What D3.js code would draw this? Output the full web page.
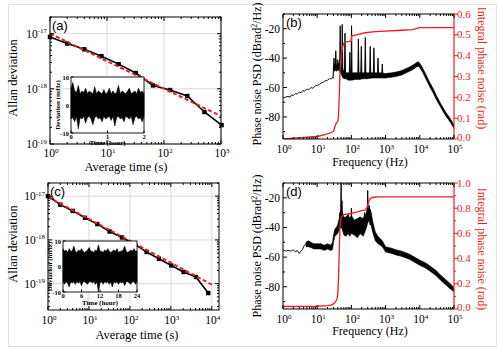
<!DOCTYPE html>
<html>
<head>
<meta charset="utf-8">
<script src="https://cdn.jsdelivr.net/npm/d3@7"></script>
<style>
body { margin: 0; background: #fff; }
svg { display: block; font-family: "Liberation Serif", "Times New Roman", serif; }
</style>
</head>
<body>
<svg id="chart" width="500" height="348"></svg>
<script>
// ---- panel (a): Allan deviation, 2 h run
const tauA = [1, 2, 4, 8, 16, 32, 64, 128, 256, 512, 1024];
const adevA = [8.7e-18, 6.6e-18, 5.2e-18, 3.9e-18, 2.8e-18, 1.93e-18, 1.15e-18, 9.5e-19, 7.4e-19, 3.8e-19, 2.2e-19];
const fitTauA = [1, 1000];
const fitA = [1.0e-17, 3.2e-19];
// inset (a): deviation envelope (mHz) over 0..2 hours
const insetAUpper = [6, 8, 5, 4.5, 7, 4, 5, 4.5, 6, 4, 5, 4.5, 4, 6.5, 4, 5, 4.5, 4, 5.5, 4, 4.5, 6, 4, 5, 4, 4.5, 7, 4, 5, 4.5, 4, 5, 6, 4, 4.5, 5, 4, 6, 4.5, 5, 4];
const insetALower = [-5, -4.5, -6, -4, -8.5, -4.5, -5, -4, -6.5, -4.5, -4, -5, -7, -4.5, -4, -5, -4.5, -6, -4, -5, -4.5, -4, -5.5, -4, -7.5, -4.5, -4, -5, -4.5, -6, -4, -4.5, -5, -4, -7, -4.5, -4, -5, -4.5, -6, -4];
const insetATicks = [0, 1, 2];

// ---- panel (c): Allan deviation, 24 h run
const tauC = [1, 2, 4, 8, 16, 32, 64, 128, 256, 512, 1024, 2048, 4096, 8192];
const adevC = [1.0e-17, 6.4e-18, 4.6e-18, 3.2e-18, 2.3e-18, 1.56e-18, 1.14e-18, 8.1e-19, 5.3e-19, 3.7e-19, 2.6e-19, 1.85e-19, 1.42e-19, 6.1e-20];
const fitTauC = [1, 10000];
const fitC = [9.5e-18, 9.5e-20];
const insetCUpper = [7, 6, 6.5, 5.5, 7, 6, 6, 8, 6, 5.5, 6.5, 6, 7, 6, 5.5, 6, 6.5, 7.5, 6, 6, 5.5, 6.5, 6, 8.5, 6, 6, 5.5, 6.5, 6, 7, 6, 5.5, 6, 6.5, 6, 7, 5.5, 6, 6, 6.5, 8, 6, 5.5, 6, 6.5, 6, 7, 6, 6];
const insetCLower = [-6, -7, -6, -6.5, -8, -6, -6.5, -6, -7, -6, -6.5, -6, -7.5, -6, -6, -6.5, -7, -6, -6, -6.5, -6, -7, -6, -10, -6.5, -6, -7, -6, -6.5, -6, -7, -6, -8, -6, -6.5, -6, -7, -6, -6.5, -6, -7.5, -6, -6, -6.5, -7, -6, -6, -7, -6];
const insetCTicks = [0, 6, 12, 18, 24];

// ---- panel (b): phase noise PSD + integrated phase noise
const thinBF = [1, 1.2, 1.4, 1.6, 1.8, 2, 2.3, 2.6, 3, 3.4, 3.8, 4.3, 5, 5.7, 6.5, 7.5, 8.5, 10, 11.5, 13, 15, 17, 20, 23, 26, 29];
const thinBDb = [-67, -66.5, -66, -66.5, -65, -65.5, -64, -64.5, -63, -63.5, -62, -62.5, -61, -61.5, -60, -60.5, -59, -58.5, -58, -57, -56.5, -55.5, -55, -54, -54, -53];
const bandBF = [29, 30, 33, 36, 40, 45, 50, 55, 60, 70, 80, 100, 130, 170, 220, 300, 400, 500, 700, 1000, 1500, 2000, 3000, 4000, 5000, 6000, 7000, 8000, 9000, 10000, 12000, 15000, 20000, 25000, 30000, 40000, 50000, 60000, 70000, 80000, 100000];
const bandBHi = [-52, -45, -44, -45, -44, -43, -44, -47, -49, -50, -50, -50, -50, -50, -50, -50, -50, -50, -50, -50.5, -50, -49.5, -48.5, -47, -46, -45, -44, -43, -42.5, -43.5, -46.5, -51, -57, -61, -65, -70.5, -74.5, -77.5, -79.5, -81.5, -85.5];
const bandBLo = [-54, -50, -48, -49, -48, -49, -51, -53, -54, -54, -55, -55, -54.5, -54.5, -54, -54, -53.5, -53.5, -53.5, -53.5, -53, -52.5, -51.5, -50, -49, -48, -47, -46, -45.5, -46.5, -49.5, -54, -60, -64, -68, -73, -77, -80, -82, -84, -88];
const spikeBF = [31, 35, 40, 47, 54, 65, 90, 101, 160, 195, 255, 355, 455, 600, 800];
const spikeBTop = [-40, -35, -41, -18, -17, -23, -36, -18, -27, -32, -26, -32, -33, -40, -44];
const spikeBBase = [-48, -47, -47, -47, -50, -52, -52, -53, -52, -52, -52, -52, -52, -52, -52];
const intBF = [1, 10, 20, 25, 30, 33, 36, 40, 42, 44, 46, 48, 50, 55, 60, 63, 100, 102, 140, 250, 500, 1000, 3000, 6000, 8000, 10000, 100000];
const intB = [0, 0.012, 0.025, 0.03, 0.037, 0.06, 0.075, 0.085, 0.11, 0.2, 0.3, 0.36, 0.4, 0.44, 0.46, 0.465, 0.47, 0.495, 0.5, 0.51, 0.515, 0.518, 0.522, 0.525, 0.53, 0.535, 0.535];
const rightTicksB = [0, 0.1, 0.2, 0.3, 0.4, 0.5, 0.6];

// ---- panel (d)
const thinDF = [1, 1.2, 1.4, 1.7, 2, 2.3, 2.6, 3, 3.3, 3.7, 4.2, 4.7];
const thinDDb = [-55, -56, -55.5, -56, -55, -56.5, -55.5, -57.5, -56, -55, -52, -51];
const bandDF = [4.7, 5.5, 6.5, 8, 10, 13, 16, 20, 25, 28, 30, 33, 36, 40, 43, 46, 50, 55, 60, 70, 80, 90, 100, 120, 150, 180, 220, 260, 300, 340, 380, 430, 500, 600, 800, 1000, 1500, 2000, 3000, 5000, 7000, 10000, 15000, 20000, 30000, 40000, 50000, 70000, 100000];
const bandDHi = [-50, -49, -50, -51, -51, -51, -52, -51, -52, -50, -45, -41, -40, -38, -35, -32, -28, -30, -33, -33, -31, -34, -32, -35, -34, -33, -34, -31, -27, -27, -30, -37, -43, -46, -49, -53, -54, -55, -56, -58, -60, -62, -64, -66, -69, -72, -74, -77, -80.5];
const bandDLo = [-53, -53, -53.5, -54.5, -54.5, -54.5, -55.5, -54.5, -55.5, -55, -50, -46, -45, -44, -42, -40, -39, -42, -45, -46, -44, -46, -44, -45, -47, -44, -46, -42, -37, -35, -39, -44, -49, -51, -53, -56.5, -57.5, -58.5, -59.5, -61.5, -63.5, -65.5, -67.5, -69.5, -72.5, -75.5, -77.5, -80.5, -83.5];
const spikeDF = [46, 50, 53, 80, 100, 130, 180, 240, 300, 330, 360];
const spikeDTop = [-30, -10, -22, -32, -27, -36, -33, -30, -15, -25, -28];
const spikeDBase = [-40, -40, -40, -42, -42, -42, -42, -40, -35, -35, -38];
const intDF = [1, 10, 20, 25, 30, 35, 38, 40, 42, 44, 46, 48, 50, 55, 60, 100, 150, 200, 250, 280, 300, 320, 350, 400, 600, 1000, 100000];
const intD = [0.02, 0.022, 0.027, 0.03, 0.04, 0.06, 0.08, 0.12, 0.25, 0.45, 0.62, 0.70, 0.73, 0.74, 0.75, 0.76, 0.77, 0.78, 0.785, 0.8, 0.82, 0.85, 0.875, 0.885, 0.89, 0.89, 0.89];
const rightTicksD = [0, 0.2, 0.4, 0.6, 0.8, 1.0];

const psdMajor = [-20, -40, -60, -80];
const psdMinor = [-10, -30, -50, -70, -90];

const RED = '#ee1c25';
const svg = d3.select('#chart');

// faint frame round the whole figure
svg.append('rect').attr('x', 8.5).attr('y', 4.5).attr('width', 488).attr('height', 342)
	.attr('fill', 'none').attr('stroke', '#e2e2e2');

function logTicks(lo, hi) {
	let majors = [], minors = [];
	for (let e = Math.floor(Math.log10(lo)); e <= Math.ceil(Math.log10(hi)); e++) {
		for (let m = 1; m < 10; m++) {
			let v = m * Math.pow(10, e);
			if (v < lo * 0.999 || v > hi * 1.001) continue;
			(m === 1 ? majors : minors).push(v);
		}
	}
	return {majors, minors};
}

function pow10(g, px, py, exp, anchor, size) {
	let t = g.append('text').attr('x', px).attr('y', py).attr('text-anchor', anchor).attr('font-size', size || 12);
	t.append('tspan').text('10');
	t.append('tspan').attr('dy', -4.5).attr('font-size', 7).text(exp);
	return t;
}

function xLogTicks(g, x, y, labelY, len) {
	let t = logTicks(x.domain()[0], x.domain()[1]);
	let yb = y.range()[0], yt = y.range()[1];
	t.majors.forEach((v) => {
		g.append('line').attr('x1', x(v)).attr('x2', x(v)).attr('y1', yb).attr('y2', yb - len).attr('stroke', '#000');
		g.append('line').attr('x1', x(v)).attr('x2', x(v)).attr('y1', yt).attr('y2', yt + len).attr('stroke', '#000');
		pow10(g, x(v) + 1, labelY, Math.round(Math.log10(v)), 'middle', 11.5);
	});
	t.minors.forEach((v) => {
		g.append('line').attr('x1', x(v)).attr('x2', x(v)).attr('y1', yb).attr('y2', yb - len / 2).attr('stroke', '#000');
		g.append('line').attr('x1', x(v)).attr('x2', x(v)).attr('y1', yt).attr('y2', yt + len / 2).attr('stroke', '#000');
	});
}

function allanPanel(o) {
	let g = svg.append('g');
	let x = d3.scaleLog().domain(o.xDom).range([o.x0, o.x1]);
	let y = d3.scaleLog().domain(o.yDom).range([o.y1, o.y0]);
	let xt = logTicks(o.xDom[0], o.xDom[1]);
	let yt = logTicks(o.yDom[0], o.yDom[1]);

	// grid
	xt.majors.forEach((v) => g.append('line').attr('x1', x(v)).attr('x2', x(v)).attr('y1', o.y0).attr('y2', o.y1)
		.attr('stroke', '#cfcfcf').attr('stroke-width', 0.8));
	yt.majors.forEach((v) => g.append('line').attr('x1', o.x0).attr('x2', o.x1).attr('y1', y(v)).attr('y2', y(v))
		.attr('stroke', '#cfcfcf').attr('stroke-width', 0.8));

	// data
	let line = d3.line().x((d) => x(d[0])).y((d) => y(d[1]));
	g.append('path').datum(d3.zip(o.tau, o.adev)).attr('d', line)
		.attr('fill', 'none').attr('stroke', '#000').attr('stroke-width', 1.6);
	g.selectAll('rect.pt').data(d3.zip(o.tau, o.adev)).enter().append('rect').attr('class', 'pt')
		.attr('x', (d) => x(d[0]) - 2.2).attr('y', (d) => y(d[1]) - 2.2)
		.attr('width', 4.4).attr('height', 4.4).attr('fill', '#000');
	g.append('path').datum(d3.zip(o.fitTau, o.fit)).attr('d', line)
		.attr('fill', 'none').attr('stroke', RED).attr('stroke-width', 2).attr('stroke-dasharray', '4,2.5');

	// frame + ticks
	g.append('rect').attr('x', o.x0).attr('y', o.y0).attr('width', o.x1 - o.x0).attr('height', o.y1 - o.y0)
		.attr('fill', 'none').attr('stroke', '#000');
	xLogTicks(g, x, y, o.xLabelY, 4);
	yt.majors.forEach((v) => {
		g.append('line').attr('x1', o.x0).attr('x2', o.x0 + 4).attr('y1', y(v)).attr('y2', y(v)).attr('stroke', '#000');
		g.append('line').attr('x1', o.x1).attr('x2', o.x1 - 4).attr('y1', y(v)).attr('y2', y(v)).attr('stroke', '#000');
		pow10(g, o.x0 - 3, y(v) + 4, Math.round(Math.log10(v)), 'end', 11.5);
	});
	yt.minors.forEach((v) => {
		g.append('line').attr('x1', o.x0).attr('x2', o.x0 + 2).attr('y1', y(v)).attr('y2', y(v)).attr('stroke', '#000');
		g.append('line').attr('x1', o.x1).attr('x2', o.x1 - 2).attr('y1', y(v)).attr('y2', y(v)).attr('stroke', '#000');
	});

	g.append('text').attr('x', o.titleX).attr('y', o.titleY).attr('text-anchor', 'middle')
		.attr('font-size', 12.5).text('Average time (s)');
	g.append('text').attr('transform', `translate(17,${o.yTitleY}) rotate(-90)`).attr('text-anchor', 'middle')
		.attr('font-size', 12.5).text('Allan deviation');
	g.append('text').attr('x', o.x0 + 2).attr('y', o.y0 + 13).attr('font-family', '"Liberation Sans", Arial, sans-serif')
		.attr('font-size', 13).text(o.letter);

	inset(g, o.inset);
}

function inset(g, o) {
	let xi = d3.scaleLinear().domain([o.ticks[0], o.ticks[o.ticks.length - 1]]).range([o.x0, o.x1]);
	let yi = d3.scaleLinear().domain([-10, 10]).range([o.y1, o.y0]);
	let n = o.upper.length;
	let span = o.ticks[o.ticks.length - 1];
	g.append('rect').attr('x', o.x0).attr('y', o.y0).attr('width', o.x1 - o.x0).attr('height', o.y1 - o.y0).attr('fill', '#fff');
	let area = d3.area()
		.x((d, i) => xi(span * i / (n - 1)))
		.y0((d, i) => yi(o.lower[i]))
		.y1((d, i) => yi(o.upper[i]));
	g.append('path').datum(o.upper).attr('d', area).attr('fill', '#000').attr('stroke', '#000').attr('stroke-width', 0.6);
	g.append('rect').attr('x', o.x0).attr('y', o.y0).attr('width', o.x1 - o.x0).attr('height', o.y1 - o.y0)
		.attr('fill', 'none').attr('stroke', '#000').attr('stroke-width', 0.9);
	o.ticks.forEach((v) => {
		g.append('line').attr('x1', xi(v)).attr('x2', xi(v)).attr('y1', o.y1).attr('y2', o.y1 - 2.5).attr('stroke', '#000');
		g.append('text').attr('x', xi(v)).attr('y', o.y1 + 5.5).attr('text-anchor', 'middle')
			.attr('font-size', 6.5).attr('font-weight', 'bold').text(v);
	});
	[10, 0, -10].forEach((v) => {
		g.append('line').attr('x1', o.x0).attr('x2', o.x0 + 2.5).attr('y1', yi(v)).attr('y2', yi(v)).attr('stroke', '#000');
		g.append('text').attr('x', o.x0 - 2).attr('y', yi(v) + 2.5).attr('text-anchor', 'end')
			.attr('font-size', 6.5).attr('font-weight', 'bold').text(v);
	});
	g.append('text').attr('x', (o.x0 + o.x1) / 2).attr('y', o.y1 + o.titleGap).attr('text-anchor', 'middle')
		.attr('font-size', 7).attr('font-weight', 'bold').text('Time (hour)');
	g.append('text').attr('transform', `translate(${o.x0 - 11},${(o.y0 + o.y1) / 2}) rotate(-90)`).attr('text-anchor', 'middle')
		.attr('font-size', 7).attr('font-weight', 'bold').text('Deviation (mHz)');
}

function psdPanel(o) {
	let g = svg.append('g');
	let x = d3.scaleLog().domain([1, 1e5]).range([o.x0, o.x1]);
	let y = d3.scaleLinear().domain([-95, -10]).range([o.y1, o.y0]);
	let yr = d3.scaleLinear().domain([0, o.rMax]).range([o.y1, o.y0]);

	let clipId = 'clip' + o.letter.replace(/\W/g, '');
	g.append('clipPath').attr('id', clipId).append('rect')
		.attr('x', o.x0).attr('y', o.y0 - 1).attr('width', o.x1 - o.x0).attr('height', o.y1 - o.y0 + 1);
	let data = g.append('g').attr('clip-path', `url(#${clipId})`);

	data.append('path').datum(d3.zip(o.thinF, o.thinDb))
		.attr('d', d3.line().x((d) => x(d[0])).y((d) => y(d[1])))
		.attr('fill', 'none').attr('stroke', '#000').attr('stroke-width', 0.9);
	o.spikeF.forEach((f, i) => {
		data.append('path')
			.attr('d', `M${x(f * 0.96)},${y(o.spikeBase[i])}L${x(f)},${y(o.spikeTop[i])}L${x(f * 1.04)},${y(o.spikeBase[i])}Z`)
			.attr('fill', '#000').attr('stroke', '#000').attr('stroke-width', 0.9);
	});
	data.append('path').datum(o.bandF)
		.attr('d', d3.area().x((d) => x(d)).y0((d, i) => y(o.bandLo[i])).y1((d, i) => y(o.bandHi[i])))
		.attr('fill', '#000').attr('stroke', '#000').attr('stroke-width', 0.6);
	data.append('path').datum(d3.zip(o.intF, o.intV))
		.attr('d', d3.line().x((d) => x(d[0])).y((d) => yr(d[1])))
		.attr('fill', 'none').attr('stroke', RED).attr('stroke-width', 1.3);

	// frame: right side is the red axis
	g.append('path').attr('d', `M${o.x1},${o.y0}H${o.x0}V${o.y1}H${o.x1}`).attr('fill', 'none').attr('stroke', '#000');
	g.append('line').attr('x1', o.x1).attr('x2', o.x1).attr('y1', o.y0).attr('y2', o.y1).attr('stroke', RED).attr('stroke-width', 1.2);

	xLogTicks(g, x, y, o.xLabelY, 4);
	psdMajor.forEach((v) => {
		g.append('line').attr('x1', o.x0).attr('x2', o.x0 + 4).attr('y1', y(v)).attr('y2', y(v)).attr('stroke', '#000');
		g.append('text').attr('x', o.x0 - 3).attr('y', y(v) + 4).attr('text-anchor', 'end').attr('font-size', 11.5).text(v);
	});
	psdMinor.forEach((v) => {
		g.append('line').attr('x1', o.x0).attr('x2', o.x0 + 2).attr('y1', y(v)).attr('y2', y(v)).attr('stroke', '#000');
	});
	o.rTicks.forEach((v, i) => {
		g.append('line').attr('x1', o.x1).attr('x2', o.x1 + 4).attr('y1', yr(v)).attr('y2', yr(v)).attr('stroke', RED);
		g.append('text').attr('x', o.x1 + 3).attr('y', yr(v) + (i === 0 ? 1.5 : 3.5)).attr('font-size', 11).attr('fill', RED)
			.text(d3.format('.1f')(v));
	});
	o.rMinor.forEach((v) => {
		g.append('line').attr('x1', o.x1).attr('x2', o.x1 + 2).attr('y1', yr(v)).attr('y2', yr(v)).attr('stroke', RED);
	});

	g.append('text').attr('x', 370).attr('y', o.titleY).attr('text-anchor', 'middle')
		.attr('font-size', 12).text('Frequency (Hz)');
	let lt = g.append('text').attr('transform', `translate(261,${o.lTitleY}) rotate(-90)`).attr('text-anchor', 'middle')
		.attr('font-size', 12);
	lt.append('tspan').text('Phase noise PSD (dBrad');
	lt.append('tspan').attr('dy', -4).attr('font-size', 8).text('2');
	lt.append('tspan').attr('dy', 4).text('/Hz)');
	g.append('text').attr('transform', `translate(478,${o.rTitleY}) rotate(90)`).attr('text-anchor', 'middle')
		.attr('font-size', 12).attr('fill', RED).text('Integral phase noise (rad)');
	g.append('text').attr('x', o.x0 + 3).attr('y', o.y0 + 13).attr('font-family', '"Liberation Sans", Arial, sans-serif')
		.attr('font-size', 13).text(o.letter);
}

allanPanel({
	x0: 50, x1: 221, y0: 17, y1: 144, xDom: [1, 1000], yDom: [1e-19, 2e-17],
	tau: tauA, adev: adevA, fitTau: fitTauA, fit: fitA,
	xLabelY: 157, titleX: 126, titleY: 170.5, yTitleY: 78, letter: '(a)',
	inset: {x0: 71, x1: 144, y0: 77, y1: 133, ticks: insetATicks, upper: insetAUpper, lower: insetALower, titleGap: 11.8}
});

allanPanel({
	x0: 48, x1: 219, y0: 183, y1: 310, xDom: [1, 15000], yDom: [2.5e-20, 2e-17],
	tau: tauC, adev: adevC, fitTau: fitTauC, fit: fitC,
	xLabelY: 324, titleX: 137, titleY: 338.5, yTitleY: 244, letter: '(c)',
	inset: {x0: 63, x1: 137, y0: 241, y1: 292, ticks: insetCTicks, upper: insetCUpper, lower: insetCLower, titleGap: 12.5}
});

psdPanel({
	x0: 283, x1: 454, y0: 14, y1: 139, letter: '(b)',
	thinF: thinBF, thinDb: thinBDb, bandF: bandBF, bandHi: bandBHi, bandLo: bandBLo,
	spikeF: spikeBF, spikeTop: spikeBTop, spikeBase: spikeBBase,
	intF: intBF, intV: intB, rMax: 0.6, rTicks: rightTicksB, rMinor: [],
	xLabelY: 153, titleY: 166, lTitleY: 74, rTitleY: 68
});

psdPanel({
	x0: 283, x1: 454, y0: 183, y1: 309, letter: '(d)',
	thinF: thinDF, thinDb: thinDDb, bandF: bandDF, bandHi: bandDHi, bandLo: bandDLo,
	spikeF: spikeDF, spikeTop: spikeDTop, spikeBase: spikeDBase,
	intF: intDF, intV: intD, rMax: 1.0, rTicks: rightTicksD, rMinor: [0.1, 0.3, 0.5, 0.7, 0.9],
	xLabelY: 323, titleY: 335, lTitleY: 246, rTitleY: 249
});
</script>
</body>
</html>
